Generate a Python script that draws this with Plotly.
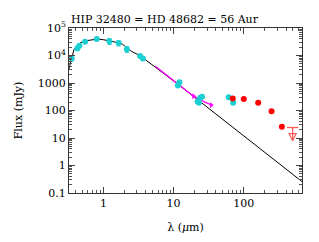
import plotly.graph_objects as go

# Photometry (cyan)
phot_wave = [0.354, 0.425, 0.454, 0.548, 0.805, 1.22, 1.65, 2.16, 3.33, 3.65,
             11.5, 12.1, 22.0, 23.0, 24.0, 25.4, 61.0, 70.6]
phot_flux = [7760, 18000, 22400, 31500, 39500, 33300, 28200, 17000, 9660, 7760,
             815, 1070, 211, 190, 288, 315, 303, 190]
phot_err = [1500, 900, 1000, 1500, 1800, 8000, 6000, 4000, 500, 400,
            40, 50, 10, 10, 14, 15, 15, 10]

# Far-IR / sub-mm photometry (red)
red_wave = [69.7, 100.0, 160.7, 249.0, 349.0]
red_flux = [272, 263, 190, 93, 25.6]
red_err = [10, 10, 8, 5, 5]

# Upper limit
ul_wave = [497.0]
ul_flux = [24.0]

# Photospheric model (black)
model_wave = [0.32, 0.335, 0.35, 0.38, 0.42, 0.48, 0.55, 0.66, 0.82, 1.0, 1.2, 1.42,
              1.87, 2.5, 3.34, 5.0, 7.0, 10.0, 20.0, 50.0, 100.0, 200.0, 400.0, 690.0]
model_flux = [3000, 4800, 7300, 16000, 23000, 29900, 34000, 37200, 39500, 37500, 35000,
              31500, 25900, 14300, 9770, 4600, 2380, 1190, 300, 47.6, 11.9, 2.98, 0.745, 0.25]

# Mid-IR spectrum (magenta)
spec_wave = [5.5, 8.0, 10.0, 15.0, 19.3, 25.0, 30.0, 35.0]
spec_flux = [4100, 1900, 1220, 560, 330, 230, 185, 158]
spec_mark_wave = [19.3, 34.5]
spec_mark_flux = [330, 158]

x_tickvals = [1, 10, 100]
x_ticktext = ["1", "10", "100"]
y_tickvals = [0.1, 1, 10, 100, 1000, 1e4, 1e5]
y_ticktext = ["0.1", "1", "10", "100", "1000", "10<sup>4</sup>", "10<sup>5</sup>"]
x_minor = [d * m for d in [0.1, 1, 10, 100] for m in range(2, 10)]
y_minor = [d * m for d in [0.1, 1, 10, 100, 1000, 1e4] for m in range(2, 10)]

title_text = "HIP 32480 = HD 48682 = 56 Aur"

CYAN = "#1ccfd2"
RED = "#ff0000"
ULRED = "#ff5a5a"
MAG = "#ff00ff"
FONT = "DejaVu Serif"
XR = [-0.49, 2.83]
YR = [-1, 5]

fig = go.Figure()

fig.add_trace(go.Scatter(x=model_wave, y=model_flux, mode="lines",
                         line=dict(color="black", width=1), showlegend=False))
fig.add_trace(go.Scatter(x=spec_wave, y=spec_flux, mode="lines",
                         line=dict(color=MAG, width=1.3), showlegend=False))
fig.add_trace(go.Scatter(x=spec_mark_wave, y=spec_mark_flux, mode="markers",
                         marker=dict(color=MAG, size=5, symbol="triangle-right"),
                         showlegend=False))
fig.add_trace(go.Scatter(x=phot_wave, y=phot_flux, mode="markers",
                         marker=dict(color=CYAN, size=6),
                         error_y=dict(type="data", array=phot_err, color=CYAN,
                                      thickness=1, width=2),
                         showlegend=False))
fig.add_trace(go.Scatter(x=red_wave, y=red_flux, mode="markers",
                         marker=dict(color=RED, size=6),
                         error_y=dict(type="data", array=red_err, color=RED,
                                      thickness=1, width=0),
                         showlegend=False))
# upper limit: bar + stem + arrow head
fig.add_trace(go.Scatter(x=ul_wave, y=ul_flux, mode="markers",
                         marker=dict(color=ULRED, size=8, symbol="line-ew-open",
                                     line=dict(color=ULRED, width=1.3)),
                         error_y=dict(type="data", symmetric=False, array=[0],
                                      arrayminus=[f - f / 3.0 for f in ul_flux],
                                      color=ULRED, thickness=1.3, width=0),
                         showlegend=False))
fig.add_trace(go.Scatter(x=ul_wave, y=[f / 3.0 for f in ul_flux], mode="markers",
                         marker=dict(color=ULRED, size=7, symbol="arrow-down-open",
                                     line=dict(color=ULRED, width=1.2)),
                         showlegend=False))
# invisible trace to anchor the minor-tick axes
fig.add_trace(go.Scatter(x=[1], y=[1], xaxis="x2", yaxis="y2", mode="markers",
                         marker=dict(opacity=0), showlegend=False, hoverinfo="skip"))

axis_common = dict(type="log", showgrid=False, zeroline=False, showline=True,
                   linecolor="#333333", linewidth=1, mirror="ticks",
                   ticks="inside", ticklen=6, tickcolor="#444444",
                   automargin=False,
                   tickfont=dict(family=FONT, size=11, color="black"))

fig.update_layout(
    xaxis=dict(**axis_common, range=XR, tickvals=x_tickvals, ticktext=x_ticktext,
               title=dict(text="λ (<i>μ</i>m)",
                          font=dict(family=FONT, size=11, color="black"),
                          standoff=14)),
    yaxis=dict(**axis_common, range=YR, tickvals=y_tickvals, ticktext=y_ticktext,
               title=dict(text="Flux (mJy)",
                          font=dict(family=FONT, size=11, color="black"),
                          standoff=12)),
    xaxis2=dict(type="log", range=XR, overlaying="x", anchor="y2", side="bottom",
                tickvals=x_minor, showticklabels=False, ticks="inside", ticklen=3,
                tickcolor="#555555", mirror="ticks", showline=False,
                showgrid=False, zeroline=False, automargin=False),
    yaxis2=dict(type="log", range=YR, overlaying="y", anchor="x2", side="left",
                tickvals=y_minor, showticklabels=False, ticks="inside", ticklen=3,
                tickcolor="#555555", mirror="ticks", showline=False,
                showgrid=False, zeroline=False, automargin=False),
)

fig.add_annotation(text=title_text, xref="paper", yref="paper", x=0, y=1,
                   xanchor="left", yanchor="bottom", showarrow=False, yshift=0,
                   font=dict(family=FONT, size=11, color="black"))

fig.update_layout(width=319, height=242, margin=dict(l=69, r=17, t=28, b=49),
                  paper_bgcolor="white", plot_bgcolor="white")

fig.write_html("out.html", config={"displayModeBar": False},
               post_script="document.body.style.margin='0';document.body.style.overflow='hidden';")
